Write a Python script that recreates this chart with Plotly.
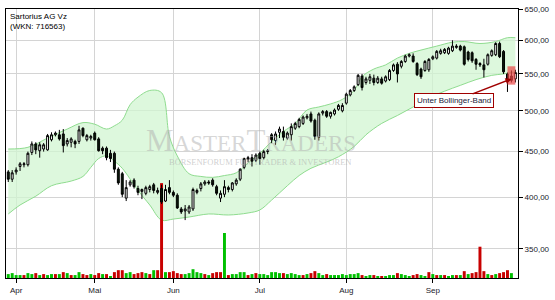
import math
import plotly.graph_objects as go

# ---------------- data ----------------
opens = [427,419,427,433,435,435,449,459,451,453,452,464,470,470,471,459,461,462,462,478,
         464,466,472,465,454,454,448,448,430,425,399,413,418,409,406,404,408,413,405,409,
         396,410,405,402,388,386,385,388,405,409,414,416,418,411,399,403,410,408,414,419,
         432,441,443,440,448,443,450,470,463,473,474,466,470,478,480,484,491,496,488,467,
         497,499,493,496,502,500,510,521,527,535,547,538,541,544,538,543,540,542,555,564,
         561,568,576,576,565,557,555,556,572,573,580,581,580,584,589,591,590,582,581,571,
         565,563,564,577,578,595,583,550,547,543]
highs = [429,429,432,438,438,450,462,461,461,460,471,473,474,476,477,466,467,464,481,479,
         471,470,474,467,456,456,452,450,432,427,418,418,420,412,409,412,413,415,410,413,
         413,418,407,404,390,392,392,410,409,416,418,418,420,413,407,418,412,416,420,431,
         443,445,447,448,450,452,453,472,474,480,480,474,484,486,491,494,496,499,490,498,
         501,501,499,503,509,510,524,529,534,550,550,546,550,549,547,546,548,557,565,567,
         570,578,580,580,567,559,570,573,577,585,587,588,590,600,594,593,592,584,583,573,
         567,572,580,586,597,598,585,552,555,556]
lows = [416,416,424,428,432,433,446,447,443,450,451,462,468,463,449,456,455,454,459,467,
        462,463,463,450,447,440,438,426,413,400,396,411,409,402,398,402,405,404,403,393,
        395,403,400,388,383,377,383,386,403,406,412,413,411,402,395,400,405,406,412,417,
        430,438,433,438,435,441,447,460,458,466,463,464,463,476,478,482,489,485,464,463,
        494,491,490,494,500,498,508,519,525,533,527,535,536,534,536,535,538,540,553,538,
        558,566,574,566,547,543,553,553,570,571,578,579,578,582,587,583,562,568,566,556,
        560,545,562,575,576,573,550,525,538,538]
closes = [419,426,429,436,436,448,459,452,458,458,469,470,472,465,457,463,465,459,476,469,
          469,468,464,451,451,443,442,430,415,403,410,416,411,405,408,410,411,407,407,395,
          408,405,402,389,385,388,390,408,407,414,416,415,413,404,404,411,408,415,418,430,
          442,443,439,446,442,450,451,464,471,477,467,472,480,484,489,492,493,487,468,496,
          499,493,498,501,507,507,522,527,532,548,531,543,546,538,544,537,546,555,563,550,
          568,576,578,568,549,546,568,571,575,583,584,586,588,591,591,585,564,571,569,564,
          563,556,578,584,595,575,553,542,541,552]

# volume (thousand shares) and up/down day flag for the volume bars
volume = [40,50,30,30,30,50,40,50,30,40,30,40,40,40,60,50,30,30,60,40,
          30,40,30,50,40,40,20,60,80,80,50,60,40,50,60,50,40,80,80,970,
          60,60,70,50,40,40,50,90,60,50,40,30,50,60,60,460,30,40,40,60,
          60,30,40,50,40,40,30,60,60,50,50,40,50,40,30,30,40,50,70,50,
          30,40,30,30,30,40,30,40,40,50,30,20,30,30,20,20,20,30,30,50,
          40,30,20,30,40,30,20,60,40,30,30,30,20,30,30,30,70,40,50,60,
          320,70,40,30,40,50,60,80,50,0]
vol_up = [1,1,1,1,0,1,1,0,1,0,1,1,0,1,0,1,0,1,1,0,
          0,1,0,0,1,0,1,0,0,0,1,1,0,0,0,1,0,1,0,0,
          1,0,0,0,0,1,1,1,1,1,0,1,0,0,0,1,0,1,1,1,
          1,0,1,0,1,1,1,1,1,1,0,1,1,1,1,0,1,0,0,1,
          1,0,1,1,1,1,1,1,1,1,0,1,1,0,1,0,1,1,1,0,
          1,1,1,0,0,1,1,0,1,0,1,0,1,1,0,1,0,1,0,0,
          0,0,1,0,1,0,0,0,1,1]

# Bollinger bands (day index -> price)
upper_idx = [0,5,10,15,19,22,25,27,29,31,33,36,39,41,43,46,49,52,55,58,61,64,67,70,73,76,
             79,82,85,88,90,93,96,99,102,105,109,113,116,120,124,127,129]
upper_val = [453,455,466,477,485,483,477,481,488,508,518,527,524,468,445,425,422,421,423,426,
             437,448,462,474,484,501,505,509,515,527,546,557,563,573,580,585,591,597,598,595,
             598,604,604]
lower_idx = [0,3,7,11,16,19,21,23,25,27,29,33,36,39,42,46,51,56,61,64,67,71,74,77,81,84,
             88,91,95,99,103,107,111,115,119,123,126,129]
lower_val = [383,392,401,412,417,422,432,442,445,439,431,407,392,377,378,380,383,382,384,387,
             397,412,423,431,438,444,456,470,484,494,505,517,526,534,542,548,550,553]

month_idx = [2, 22, 42, 64, 86, 108]
month_lbl = ["Apr", "Mai", "Jun", "Jul", "Aug", "Sep"]
price_ticks = [350, 400, 450, 500, 550, 600, 650]
price_lbls = ["350,00", "400,00", "450,00", "500,00", "550,00", "600,00", "650,00"]

title_lines = ["Sartorius AG Vz", "(WKN: 716563)"]
signal_text = "Unter Bollinger-Band"
signal_day = 128
signal_price = 543
signal_box = (127, 129, 535, 561)

# ---------------- figure ----------------
days = list(range(len(closes)))
FONT = "Liberation Sans"
yr = [math.log10(324.6), math.log10(650) + 0.00033]

fig = go.Figure()
band_line = dict(color="#8fdc8f", width=1)
fig.add_trace(go.Scatter(x=upper_idx, y=upper_val, mode="lines", line=band_line,
                         line_shape="spline", hoverinfo="skip", showlegend=False))
fig.add_trace(go.Scatter(x=lower_idx, y=lower_val, mode="lines", line=band_line,
                         line_shape="spline", fill="tonexty",
                         fillcolor="rgba(210,245,210,0.75)", hoverinfo="skip",
                         showlegend=False))

fig.add_trace(go.Bar(x=days, y=volume, yaxis="y2", width=0.75,
                     marker=dict(color=["#00c000" if u else "#c80000" for u in vol_up],
                                 line=dict(width=0)),
                     showlegend=False, hoverinfo="skip"))

fig.add_trace(go.Candlestick(x=days, open=opens, high=highs, low=lows, close=closes,
                             yaxis="y3",
                             increasing=dict(line=dict(color="#000000", width=1),
                                             fillcolor="#ffffff"),
                             decreasing=dict(line=dict(color="#000000", width=1),
                                             fillcolor="#0a1a0a"),
                             whiskerwidth=0, showlegend=False, hoverinfo="skip"))

# watermark
fig.add_annotation(xref="paper", yref="paper", x=0.478, y=0.51, showarrow=False,
                   text="M<span style='font-size:23px'>ASTER</span>T<span style='font-size:23px'>RADERS</span>",
                   font=dict(family="Liberation Serif", size=31, color="rgba(175,175,175,0.5)"))
fig.add_annotation(xref="paper", yref="paper", x=0.497, y=0.43, showarrow=False,
                   text="BÖRSENFORUM FÜR TRADER &amp; INVESTOREN",
                   font=dict(family="Liberation Serif", size=8.5, color="rgba(175,175,175,0.6)"))

# title
fig.add_annotation(xref="paper", yref="paper", x=0.0, y=1.0, xanchor="left", yanchor="top",
                   xshift=2, yshift=-1, showarrow=False, align="left",
                   text="<br>".join(title_lines),
                   font=dict(family=FONT, size=8, color="#000000"))

# signal
fig.add_shape(type="rect", xref="x", yref="y", x0=signal_box[0], x1=signal_box[1],
              y0=signal_box[2], y1=signal_box[3],
              fillcolor="rgba(235,70,70,0.7)", line=dict(width=0), layer="above")
fig.add_annotation(xref="x", yref="y", x=signal_day, y=math.log10(signal_price),
                   text=signal_text, showarrow=True, arrowhead=2, arrowsize=0.8,
                   arrowwidth=1.5, arrowcolor="#a00000", ax=-57, ay=22,
                   bgcolor="#ffffff", bordercolor="#a00000", borderwidth=1, borderpad=2,
                   font=dict(family=FONT, size=8, color="#1a1a3a"))

axis_font = dict(family=FONT, size=8, color="#1a1a2a")
fig.update_layout(
    width=555, height=300,
    margin=dict(l=5, r=29, t=5, b=20),
    paper_bgcolor="#ffffff", plot_bgcolor="#ffffff",
    showlegend=False,
    xaxis=dict(range=[-0.575, 129.675], tickmode="array", tickvals=month_idx,
               ticktext=month_lbl, ticks="outside", ticklen=4, tickcolor="#000",
               showgrid=True, gridcolor="#d4d4d4", gridwidth=1,
               showline=True, linecolor="#000", linewidth=1, mirror=True,
               zeroline=False, tickfont=axis_font, rangeslider=dict(visible=False),
               fixedrange=True),
    yaxis=dict(type="log", range=yr, side="right", tickmode="array",
               tickvals=price_ticks, ticktext=price_lbls, ticks="outside", ticklen=4,
               tickcolor="#000", showgrid=True, gridcolor="#d4d4d4", gridwidth=1,
               showline=True, linecolor="#000", linewidth=1, mirror=True,
               zeroline=False, tickfont=axis_font),
    yaxis2=dict(overlaying="y", range=[0, 2750], visible=False, showgrid=False),
    yaxis3=dict(overlaying="y", type="log", range=yr, visible=False, showgrid=False),
)

fig.write_html("out.html")
